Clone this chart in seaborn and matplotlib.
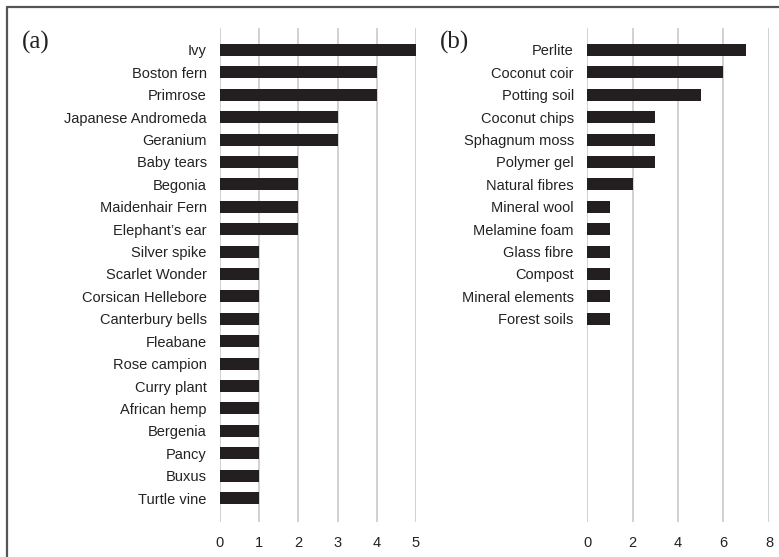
import matplotlib
matplotlib.use("Agg")
import matplotlib.pyplot as plt
import seaborn as sns
import pandas as pd
from matplotlib.lines import Line2D

# Plants (panel a)
plants = ["Ivy", "Boston fern", "Primrose", "Japanese Andromeda", "Geranium",
          "Baby tears", "Begonia", "Maidenhair Fern", "Elephant\u2019s ear",
          "Silver spike", "Scarlet Wonder", "Corsican Hellebore", "Canterbury bells",
          "Fleabane", "Rose campion", "Curry plant", "African hemp", "Bergenia",
          "Pancy", "Buxus", "Turtle vine"]
plant_counts = [5, 4, 4, 3, 3, 2, 2, 2, 2, 1, 1, 1, 1, 1, 1, 1, 1, 1, 1, 1, 1]
plant_ticks = [0, 1, 2, 3, 4, 5]

# Growing media (panel b)
media = ["Perlite", "Coconut coir", "Potting soil", "Coconut chips", "Sphagnum moss",
         "Polymer gel", "Natural fibres", "Mineral wool", "Melamine foam",
         "Glass fibre", "Compost", "Mineral elements", "Forest soils"]
media_counts = [7, 6, 5, 3, 3, 3, 2, 1, 1, 1, 1, 1, 1]
media_ticks = [0, 2, 4, 6, 8]

sns.set_theme(style="white")
plt.rcParams["font.family"] = ["Liberation Sans", "DejaVu Sans"]

BAR = "#231f20"
GRID = "#c9c9c9"

fig = plt.figure(figsize=(7.79, 5.57), dpi=100)
W, H = 779, 557

def add_axes(x0, x1, y0, y1):
    return fig.add_axes([x0 / W, 1 - y1 / H, (x1 - x0) / W, (y1 - y0) / H])

ax_a = add_axes(220, 416, 28, 522)
ax_b = add_axes(587, 769, 28, 522)

df_a = pd.DataFrame({"name": plants, "count": plant_counts})
df_b = pd.DataFrame({"name": media, "count": media_counts})

n_slots = len(plants)

for ax, df, ticks, xmax in [(ax_a, df_a, plant_ticks, 5), (ax_b, df_b, media_ticks, 8)]:
    sns.barplot(data=df, x="count", y="name", orient="h", color=BAR,
                saturation=1, width=0.54, ax=ax, edgecolor="none", zorder=3)
    ax.set_xlim(0, xmax)
    ax.set_ylim(n_slots - 1 + 1.07, -0.98)
    ax.set_xticks(ticks)
    ax.set_xticklabels([str(t) for t in ticks], fontsize=10.5, color="#222222")
    ax.tick_params(axis="y", labelsize=10.5, labelcolor="#222222", pad=9.5, length=0)
    ax.tick_params(axis="x", length=0, pad=10)
    for t in ticks:
        ax.axvline(t, color=GRID, lw=1.2, zorder=1)
    for s in ax.spines.values():
        s.set_visible(False)
    ax.set_xlabel("")
    ax.set_ylabel("")
    ax.grid(False)

fig.text(22 / W, 1 - 42 / H, "(a)", family="Liberation Serif", fontsize=18,
         va="center", ha="left", color="#222222")
fig.text(440 / W, 1 - 42 / H, "(b)", family="Liberation Serif", fontsize=18,
         va="center", ha="left", color="#222222")

# Outer frame (left and top edges)
frame_kw = dict(color="#555555", lw=1.6, transform=fig.transFigure)
fig.add_artist(Line2D([6.5 / W, 6.5 / W], [0, 1 - 6.5 / H], **frame_kw))
fig.add_artist(Line2D([6.5 / W, 1], [1 - 6.5 / H, 1 - 6.5 / H], **frame_kw))

fig.savefig("out.png", dpi=100)
